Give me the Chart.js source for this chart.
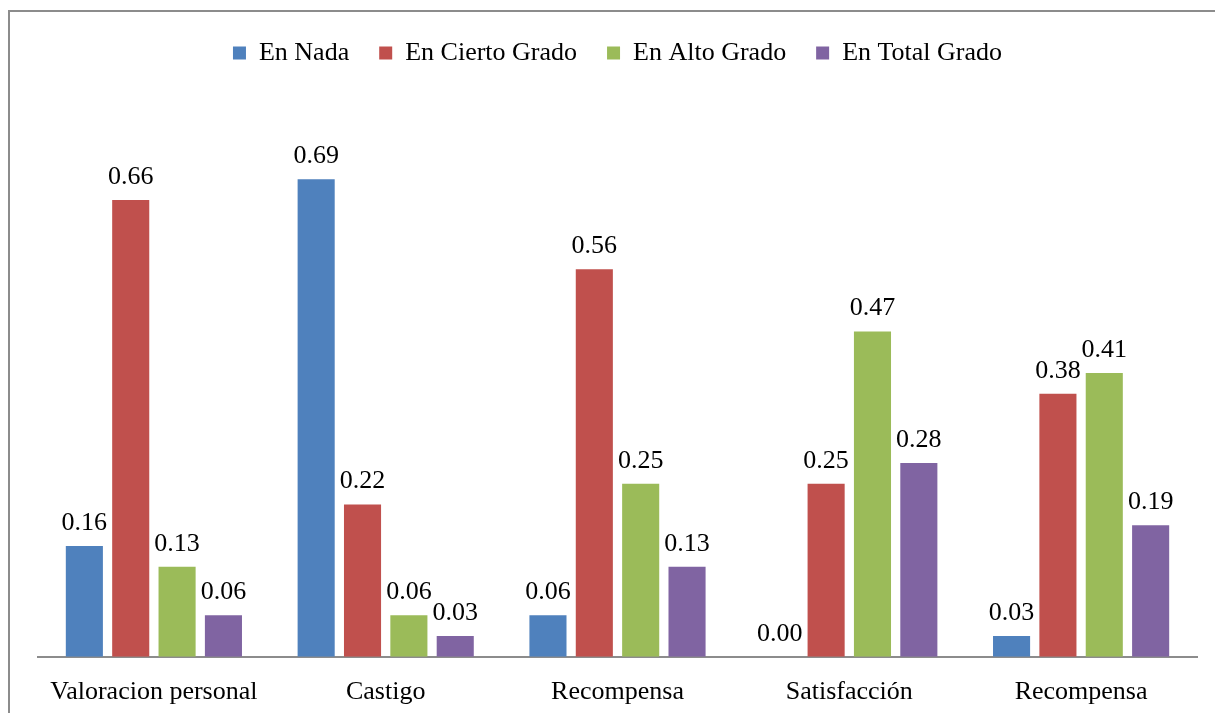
<!DOCTYPE html>
<html>
<head>
<meta charset="utf-8">
<script src="https://cdn.jsdelivr.net/npm/chart.js@4.4.0/dist/chart.umd.min.js"></script>
<style>
    html, body { margin: 0; padding: 0; background: #fff; overflow: hidden; }
    #wrap { position: relative; width: 1215px; height: 713px; overflow: hidden; }
    #frame {
        position: absolute; left: 8px; top: 10px; width: 1220px; height: 720px;
        border: 2px solid #8c8c8c; pointer-events: none;
    }
    canvas { position: absolute; left: 0; top: 0; }
</style>
</head>
<body>
<div id="wrap">
    <canvas id="chart" width="1215" height="713"></canvas>
    <div id="frame"></div>
</div>
<script>
// ===========================
// Data
// ===========================

const categories = ['Valoracion personal', 'Castigo', 'Recompensa', 'Satisfacción', 'Recompensa'];
const seriesNames = ['En Nada', 'En Cierto Grado', 'En Alto Grado', 'En Total Grado'];
const enNada = [0.16, 0.69, 0.06, 0.00, 0.03];
const enCiertoGrado = [0.66, 0.22, 0.56, 0.25, 0.38];
const enAltoGrado = [0.13, 0.06, 0.25, 0.47, 0.41];
const enTotalGrado = [0.06, 0.03, 0.13, 0.28, 0.19];
const seriesColors = ['#4F81BD', '#C0504D', '#9BBB59', '#8064A2'];

const FONT = "'Liberation Serif', 'Times New Roman', serif";

// ===========================
// Plugins
// ===========================

// value labels above each bar
const valueLabels = {
    id: 'valueLabels',
    afterDatasetsDraw(chart) {
        const ctx = chart.ctx;
        ctx.save();
        ctx.font = `26px ${FONT}`;
        ctx.fillStyle = '#000';
        ctx.textAlign = 'center';
        ctx.textBaseline = 'middle';
        chart.data.datasets.forEach((ds, i) => {
            chart.getDatasetMeta(i).data.forEach((bar, j) => {
                ctx.fillText(ds.data[j].toFixed(2), bar.x, bar.y - 23);
            });
        });
        ctx.restore();
    }
};

// push the plot area down to leave room like the original
const legendSpace = {
    id: 'legendSpace',
    beforeInit(chart) {
        const origFit = chart.legend.fit;
        chart.legend.fit = function() {
            origFit.bind(chart.legend)();
            this.height = 93;
        };
    }
};

// ===========================
// Chart
// ===========================

const datasets = [enNada, enCiertoGrado, enAltoGrado, enTotalGrado].map((values, i) => ({
    label: seriesNames[i],
    data: values,
    backgroundColor: seriesColors[i],
    borderWidth: 0,
    categoryPercentage: 0.8,
    barPercentage: 0.8
}));

new Chart(document.getElementById('chart'), {
    type: 'bar',
    data: { labels: categories, datasets: datasets },
    options: {
        responsive: false,
        animation: false,
        devicePixelRatio: 1,
        layout: { padding: { left: 38, right: 18, top: 10, bottom: -15 } },
        plugins: {
            legend: {
                position: 'top',
                labels: {
                    boxWidth: 13,
                    boxHeight: 13,
                    padding: 30,
                    color: '#000',
                    font: { family: FONT, size: 26 }
                }
            },
            tooltip: { enabled: false }
        },
        scales: {
            x: {
                grid: { display: false, drawTicks: false },
                border: { display: true, color: '#8c8c8c', width: 2 },
                ticks: {
                    color: '#000',
                    padding: 20,
                    maxRotation: 0,
                    font: { family: FONT, size: 26 }
                }
            },
            y: {
                display: false,
                min: 0,
                max: 0.8
            }
        }
    },
    plugins: [legendSpace, valueLabels]
});
</script>
</body>
</html>
